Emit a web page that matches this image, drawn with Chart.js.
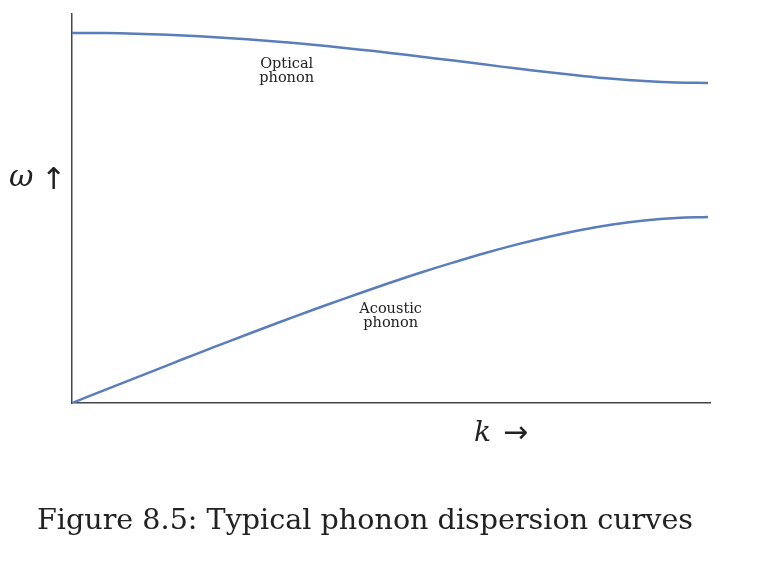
<!DOCTYPE html>
<html>
<head>
<meta charset="utf-8">
<script src="https://cdn.jsdelivr.net/npm/chart.js@4.4.1/dist/chart.umd.min.js"></script>
<style>
  html, body { margin: 0; padding: 0; background: #fff; }
  #wrap { position: relative; width: 766px; height: 576px; }
  canvas { position: absolute; left: 0; top: 0; }
  #caption { position: absolute; left: 0; width: 730px; text-align: center; top: 502px;
    font-family: "DejaVu Serif", serif; font-size: 28.6px; color: #222; white-space: nowrap; }
</style>
</head>
<body>
<div id="wrap">
  <canvas id="c" width="766" height="576"></canvas>
  <div id="caption">Figure 8.5: Typical phonon dispersion curves</div>
</div>
<script>
// wave number k (arbitrary units, 0 .. zone boundary)
const kValues = [0,1,2,3,4,5,6,7,8,9,10,11,12,13,14,15,16,17,18,19,20];
// frequency ω (arbitrary units)
const opticalOmega = [370.1,369.9,369.3,368.2,366.7,364.8,362.5,359.9,356.9,353.6,350.1,346.3,342.4,338.4,334.4,330.7,327.2,324.2,322.0,320.5,320.0];
const acousticOmega = [0,12.6,25.2,37.7,50.2,62.4,74.5,86.4,98.0,109.3,120.2,130.7,140.6,150.0,158.6,166.3,173.0,178.5,182.6,185.1,186.0];
const curveLabels = [
  { lines: ["Optical", "phonon"], k: 6.75, w: 335 },
  { lines: ["Acoustic", "phonon"], k: 10.02, w: 90 }
];
const xAxisLabel = "k";
const yAxisLabel = "ω";

const lineColor = "#5a7dbb";
const axisColor = "#444444";

const toPts = (ys) => kValues.map((k, i) => ({ x: k, y: ys[i] }));

const textPlugin = {
  id: "texts",
  afterDraw(chart) {
    const ctx = chart.ctx;
    const xs = chart.scales.x, ys = chart.scales.y;
    ctx.save();
    ctx.fillStyle = "#222";
    ctx.textAlign = "center";
    ctx.textBaseline = "alphabetic";
    ctx.font = '14.5px "DejaVu Serif", serif';
    curveLabels.forEach(l => {
      const px = xs.getPixelForValue(l.k);
      const py = ys.getPixelForValue(l.w);
      l.lines.forEach((t, i) => ctx.fillText(t, px, py + i * 14));
    });
    // y axis label
    ctx.font = 'italic 30px "DejaVu Serif", serif';
    ctx.textAlign = "left";
    ctx.fillText(yAxisLabel, 9, 186);
    ctx.font = '30px "DejaVu Sans", sans-serif';
    ctx.fillText("↑", 41, 189);
    // x axis label
    ctx.font = 'italic 28px "DejaVu Serif", serif';
    ctx.fillText(xAxisLabel, 474, 441);
    ctx.font = '30px "DejaVu Sans", sans-serif';
    ctx.fillText("→", 503, 442);
    ctx.restore();
  }
};

new Chart(document.getElementById("c"), {
  type: "line",
  data: {
    datasets: [
      { label: "Optical", data: toPts(opticalOmega), borderColor: lineColor, borderWidth: 2.5, pointRadius: 0, tension: 0.4, fill: false },
      { label: "Acoustic", data: toPts(acousticOmega), borderColor: lineColor, borderWidth: 2.5, pointRadius: 0, tension: 0.4, fill: false }
    ]
  },
  options: {
    responsive: false,
    animation: false,
    events: [],
    layout: { padding: { left: 72, top: 14, right: 56, bottom: 173 } },
    plugins: { legend: { display: false }, tooltip: { enabled: false } },
    scales: {
      x: {
        type: "linear", min: 0, max: 20.063,
        grid: { display: false, drawTicks: false },
        ticks: { display: false },
        border: { display: true, color: axisColor, width: 1.5 }
      },
      y: {
        type: "linear", min: 0, max: 389,
        grid: { display: false, drawTicks: false },
        ticks: { display: false },
        border: { display: true, color: axisColor, width: 1.5 }
      }
    }
  },
  plugins: [textPlugin]
});
</script>
</body>
</html>
